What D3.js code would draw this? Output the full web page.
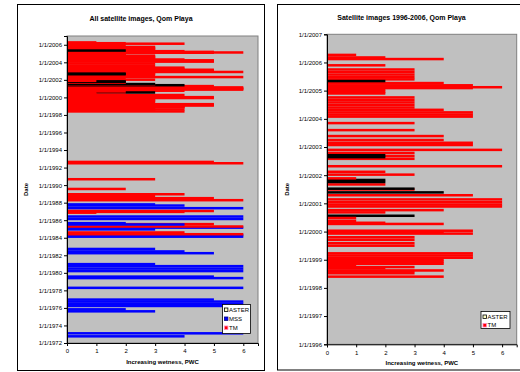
<!DOCTYPE html>
<html>
<head>
<meta charset="utf-8">
<script src="https://cdn.jsdelivr.net/npm/d3@7/dist/d3.min.js"></script>
<style>
  body { margin: 0; background: #fff; }
  svg { display: block; font-family: "Liberation Sans", Arial, sans-serif; }
</style>
</head>
<body>
<svg id="chart" width="520" height="372"></svg>
<script>
// sensors and their bar colours
const sensors = ['ASTER', 'MSS', 'TM']
const sensorColors = { ASTER: '#000000', MSS: '#0000ff', TM: '#ff0000' }
const legendFills = { ASTER: '#ffffc8', MSS: '#0000ff', TM: '#ff0000' }
const legendStrokes = { ASTER: '#000000', MSS: '#000080', TM: '#ff80c0' }

const pwcTicks = [0, 1, 2, 3, 4, 5, 6]

// [image date, PWC wetness class]
const asterImages = [
  ['2005-05-05', 2], ['2002-09-17', 2], ['2002-08-23', 2], ['2001-10-31', 2],
  ['2001-10-05', 2], ['2001-07-10', 3], ['2001-05-23', 4], ['2000-07-24', 3],
]

const mssImages = [
  ['1987-10-20', 3], ['1987-09-03', 4], ['1987-05-16', 6], ['1986-06-03', 6],
  ['1986-02-21', 6], ['1985-08-30', 2], ['1985-07-06', 4], ['1985-02-25', 6],
  ['1984-12-13', 3], ['1984-04-20', 6], ['1984-02-14', 6], ['1982-09-21', 3],
  ['1982-06-10', 4], ['1982-03-29', 5], ['1980-12-28', 3], ['1980-10-05', 6],
  ['1980-06-25', 6], ['1980-03-14', 6], ['1979-07-28', 5], ['1979-05-27', 6],
  ['1978-04-16', 6], ['1976-12-13', 5], ['1976-09-21', 6], ['1976-06-18', 6],
  ['1976-03-22', 6], ['1975-11-03', 2], ['1975-08-12', 3], ['1973-02-07', 6],
  ['1972-10-05', 4],
]

const tmImages = [
  ['2006-04-09', 1], ['2006-03-07', 2], ['2006-02-14', 4], ['2005-11-25', 2],
  ['2005-10-02', 3], ['2005-08-30', 3], ['2005-07-28', 3], ['2005-06-25', 3],
  ['2005-05-27', 3], ['2005-04-09', 4], ['2005-03-11', 5], ['2005-02-14', 6],
  ['2005-02-03', 5], ['2005-01-12', 2], ['2004-12-16', 2], ['2004-11-25', 2],
  ['2004-10-05', 3], ['2004-09-03', 3], ['2004-08-01', 3], ['2004-06-29', 3],
  ['2004-05-27', 3], ['2004-04-27', 4], ['2004-03-25', 5], ['2004-02-25', 5],
  ['2004-01-30', 5], ['2003-11-07', 3], ['2003-08-08', 3], ['2003-05-23', 4],
  ['2003-04-02', 4], ['2003-02-25', 5], ['2003-01-27', 5], ['2002-11-25', 6],
  ['2002-10-16', 3], ['2002-09-06', 3], ['2002-08-01', 3], ['2002-04-27', 6],
  ['2002-02-14', 2], ['2002-01-08', 3], ['2001-11-21', 1], ['2001-09-03', 2],
  ['2001-06-29', 3], ['2001-04-16', 5], ['2001-02-21', 6], ['2001-01-16', 6],
  ['2000-12-16', 6], ['2000-11-21', 6], ['2000-10-05', 4], ['2000-09-06', 2],
  ['2000-06-25', 1], ['2000-05-19', 1], ['2000-04-24', 2], ['2000-04-09', 4],
  ['2000-01-12', 5], ['1999-12-24', 4], ['1999-12-06', 5], ['1999-10-20', 3],
  ['1999-09-17', 3], ['1999-08-04', 3], ['1999-07-02', 3], ['1999-03-25', 5],
  ['1999-02-25', 5], ['1999-01-27', 5], ['1999-01-01', 4], ['1998-12-06', 4],
  ['1998-11-21', 1], ['1998-11-10', 4], ['1998-10-20', 1], ['1998-09-28', 3],
  ['1998-09-13', 2], ['1998-08-15', 4], ['1998-08-08', 3], ['1998-07-10', 3],
  ['1998-05-27', 4],
  ['1992-08-23', 5], ['1992-06-29', 6], ['1990-09-03', 3], ['1989-07-24', 2],
  ['1988-12-16', 4], ['1988-09-24', 3], ['1988-07-06', 5], ['1988-04-13', 6],
  ['1987-01-19', 5], ['1986-12-13', 4], ['1986-11-10', 1], ['1985-07-21', 5],
  ['1985-04-13', 6], ['1984-08-08', 4], ['1984-05-27', 6],
]

const parseDate = d3.timeParse('%Y-%m-%d')
const fmtDate = d3.timeFormat('%-m/%-d/%Y')

const images = [
  ...asterImages.map(([d, v]) => ({ sensor: 'ASTER', date: parseDate(d), pwc: v })),
  ...mssImages.map(([d, v]) => ({ sensor: 'MSS', date: parseDate(d), pwc: v })),
  ...tmImages.map(([d, v]) => ({ sensor: 'TM', date: parseDate(d), pwc: v })),
]

const panels = [
  {
    id: 'all',
    title: 'All satellite images, Qom Playa',
    box: { x: 17.5, y: 4.5, w: 247, h: 366 },
    plot: { left: 67, top: 36, right: 258, bottom: 343 },
    start: '1972-01-01', end: '2007-01-01', tickStep: 2,
    sensors: ['ASTER', 'MSS', 'TM'],
    barH: 2.5,
    legend: { x: 222.5, y: 304.5, w: 28, h: 29, row: 9 },
  },
  {
    id: 'recent',
    title: 'Satellite images 1996-2006, Qom Playa',
    box: { x: 277.5, y: 4.5, w: 250, h: 365.5 },
    plot: { left: 327, top: 34.3, right: 516.7, bottom: 344.3 },
    start: '1996-01-01', end: '2007-01-01', tickStep: 1,
    sensors: ['ASTER', 'TM'],
    barH: 2.5,
    legend: { x: 481, y: 311.5, w: 29, h: 17, row: 8.6 },
  },
]

const svg = d3.select('#chart')

panels.forEach((p) => {
  const g = svg.append('g').attr('class', `panel-${p.id}`)

  g.append('rect')
    .attr('x', p.box.x).attr('y', p.box.y)
    .attr('width', p.box.w).attr('height', p.box.h)
    .attr('fill', '#fff').attr('stroke', '#000').attr('stroke-width', 1)

  g.append('text')
    .attr('x', p.box.x + p.box.w / 2 + (p.id === 'recent' ? -1 : 0))
    .attr('y', p.id === 'recent' ? 19.8 : 21.4)
    .attr('text-anchor', 'middle')
    .attr('font-size', 7).attr('font-weight', 'bold')
    .text(p.title)

  const x = d3.scaleLinear().domain([0, 6.5]).range([p.plot.left, p.plot.right])
  const y = d3.scaleTime()
    .domain([parseDate(p.start), parseDate(p.end)])
    .range([p.plot.bottom, p.plot.top])

  g.append('rect')
    .attr('x', p.plot.left).attr('y', p.plot.top)
    .attr('width', p.plot.right - p.plot.left).attr('height', p.plot.bottom - p.plot.top)
    .attr('fill', '#c0c0c0').attr('stroke', '#808080').attr('stroke-width', 1)

  const clipId = `clip-${p.id}`
  svg.append('clipPath').attr('id', clipId)
    .append('rect')
    .attr('x', p.plot.left).attr('y', p.plot.top)
    .attr('width', p.plot.right - p.plot.left).attr('height', p.plot.bottom - p.plot.top)

  const rows = images
    .filter((d) => p.sensors.includes(d.sensor) && d.date >= y.domain()[0] && d.date <= y.domain()[1])
    .sort((a, b) => b.pwc - a.pwc || a.date - b.date)

  // longer bars first so the shorter ones stay visible on top
  g.append('g').attr('clip-path', `url(#${clipId})`)
    .selectAll('rect')
    .data(rows)
    .join('rect')
    .attr('x', x(0))
    .attr('y', (d) => y(d.date) - p.barH / 2)
    .attr('width', (d) => x(d.pwc) - x(0))
    .attr('height', p.barH)
    .attr('fill', (d) => sensorColors[d.sensor])

  // date axis
  const yTicks = d3.timeYear.every(p.tickStep).range(y.domain()[0], d3.timeDay.offset(y.domain()[1], 1))
    .filter((t) => p.tickStep === 1 || t.getFullYear() % 2 === 0)
  const yAxis = g.append('g')
    .attr('transform', `translate(${p.plot.left},0)`)
    .call(d3.axisLeft(y).tickValues(yTicks).tickFormat(fmtDate).tickSize(3).tickPadding(2))
  yAxis.select('.domain').attr('stroke', '#000').attr('stroke-width', 1)
  yAxis.selectAll('.tick line').attr('stroke', '#000')
  yAxis.selectAll('.tick text')
    .attr('font-size', 6).attr('fill', '#000')
    .attr('font-family', '"Liberation Sans", Arial, sans-serif')

  // PWC axis
  const xAxis = g.append('g')
    .attr('transform', `translate(0,${p.plot.bottom})`)
    .call(d3.axisBottom(x).tickValues(pwcTicks).tickFormat(d3.format('d')).tickSize(3).tickPadding(3))
  xAxis.select('.domain').attr('stroke', '#000').attr('stroke-width', 1)
  xAxis.selectAll('.tick line').attr('stroke', '#000')
  xAxis.selectAll('.tick text')
    .attr('font-size', 6).attr('fill', '#000')
    .attr('font-family', '"Liberation Sans", Arial, sans-serif')

  g.append('text')
    .attr('x', (p.plot.left + p.plot.right) / 2)
    .attr('y', p.plot.bottom + 20.5)
    .attr('text-anchor', 'middle')
    .attr('font-size', 6).attr('font-weight', 'bold')
    .text('Increasing wetness, PWC')

  g.append('text')
    .attr('transform', `translate(${p.box.x + (p.id === 'recent' ? 11.5 : 10.5)},${(p.plot.top + p.plot.bottom) / 2}) rotate(-90)`)
    .attr('text-anchor', 'middle')
    .attr('font-size', 6).attr('font-weight', 'bold')
    .text('Date')

  // legend
  const L = p.legend
  const legClip = `legclip-${p.id}`
  svg.append('clipPath').attr('id', legClip)
    .append('rect').attr('x', L.x).attr('y', L.y).attr('width', L.w).attr('height', L.h)
  const lg = g.append('g')
  lg.append('rect')
    .attr('x', L.x).attr('y', L.y).attr('width', L.w).attr('height', L.h)
    .attr('fill', '#fff').attr('stroke', '#000').attr('stroke-width', 0.8)
  const item = lg.append('g').attr('clip-path', `url(#${legClip})`)
    .selectAll('g')
    .data(p.sensors)
    .join('g')
    .attr('transform', (d, i) => `translate(${L.x + 2},${L.y + 5.3 + i * L.row})`)
  item.append('rect')
    .attr('x', 0).attr('y', -1.8).attr('width', 3.4).attr('height', 3.4)
    .attr('fill', (d) => legendFills[d])
    .attr('stroke', (d) => legendStrokes[d]).attr('stroke-width', 0.8)
  item.append('text')
    .attr('x', 4.6).attr('y', 2)
    .attr('font-size', 6).attr('fill', '#000')
    .text((d) => d)
})
</script>
</body>
</html>
